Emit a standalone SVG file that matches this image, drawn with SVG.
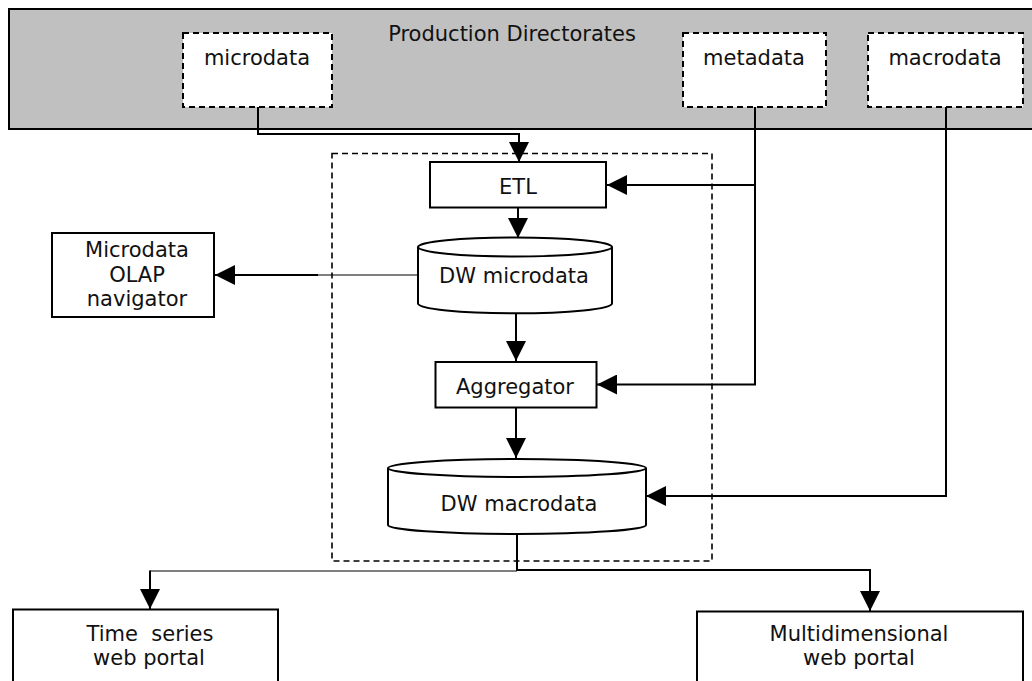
<svg xmlns="http://www.w3.org/2000/svg" width="1032" height="681" viewBox="0 0 1032 681">
<style>
text { font-family: "DejaVu Sans", Verdana, sans-serif; font-size: 21px; fill: #111; text-anchor: middle; }
.box { fill: #fff; stroke: #000; stroke-width: 2; }
.dbox { fill: #fff; stroke: #000; stroke-width: 2; stroke-dasharray: 6 4; }
.band { fill: #c0c0c0; stroke: #000; stroke-width: 2; }
.cont { fill: none; stroke: #000; stroke-width: 1.6; stroke-dasharray: 6 4; }
.conn path { fill: none; stroke: #000; stroke-width: 2; }
.conn path.thin { stroke-width: 1.2; }
</style>
<defs>
<marker id="arr" markerUnits="userSpaceOnUse" markerWidth="20" markerHeight="20" viewBox="0 0 20 20" refX="20" refY="10" orient="auto">
<path d="M0,0 L20,10 L0,20 Z" fill="#000"/>
</marker>
</defs>

<g id="production-directorates">
<rect class="band" x="9" y="9" width="1024" height="120"/>
<text x="512" y="41">Production Directorates</text>
</g>
<g id="microdata">
<rect class="dbox" x="183" y="33" width="149" height="74"/>
<text x="257" y="65">microdata</text>
</g>
<g id="metadata">
<rect class="dbox" x="683" y="33" width="143" height="74"/>
<text x="754" y="65">metadata</text>
</g>
<g id="macrodata">
<rect class="dbox" x="868" y="33" width="155" height="74"/>
<text x="945" y="65">macrodata</text>
</g>

<g id="warehouse-container">
<rect class="cont" x="332" y="153.5" width="380" height="407.5"/>
</g>

<g id="etl">
<rect class="box" x="430" y="162" width="176" height="45.5"/>
<text x="518" y="194">ETL</text>
</g>
<g id="dw-microdata">
<path class="box" d="M418,247 A97,9.5 0 0 1 612,247 V303.5 A97,9.8 0 0 1 418,303.5 Z"/>
<path class="box" fill="none" d="M418,247 A97,9.5 0 0 0 612,247"/>
<text x="514" y="283">DW microdata</text>
</g>
<g id="olap-navigator">
<rect class="box" x="52" y="233" width="162" height="84"/>
<text x="137" y="257">Microdata</text>
<text x="137" y="282">OLAP</text>
<text x="137" y="306">navigator</text>
</g>
<g id="aggregator">
<rect class="box" x="435.5" y="362" width="161" height="45.5"/>
<text x="515" y="394">Aggregator</text>
</g>
<g id="dw-macrodata">
<path class="box" d="M388,468 A129,9 0 0 1 646,468 V525 A129,9 0 0 1 388,525 Z"/>
<path class="box" fill="none" d="M388,468 A129,9 0 0 0 646,468"/>
<text x="519" y="511">DW macrodata</text>
</g>
<g id="time-series-portal">
<rect class="box" x="13" y="609.5" width="265" height="90"/>
<text x="150" y="641" xml:space="preserve">Time  series</text>
<text x="149" y="665">web portal</text>
</g>
<g id="multidimensional-portal">
<rect class="box" x="697" y="611.5" width="326" height="90"/>
<text x="859" y="641">Multidimensional</text>
<text x="859" y="665">web portal</text>
</g>

<g id="connectors" class="conn">
<path d="M258,107 V134 H519 V162" marker-end="url(#arr)"/>
<path d="M755,107 V384.5 H597" marker-end="url(#arr)"/>
<path d="M755,185 H607" marker-end="url(#arr)"/>
<path d="M946,107 V496 H646" marker-end="url(#arr)"/>
<path d="M518,207.5 V238" marker-end="url(#arr)"/>
<path class="thin" d="M418,275 H317"/>
<path d="M318,275 H215" marker-end="url(#arr)"/>
<path d="M516,313 V361" marker-end="url(#arr)"/>
<path d="M516,407.5 V458" marker-end="url(#arr)"/>
<path d="M517,534 V571"/>
<path class="thin" d="M517,571 H150"/>
<path d="M150,570.5 V609" marker-end="url(#arr)"/>
<path d="M517,570 H870 V611" marker-end="url(#arr)"/>
</g>
</svg>
